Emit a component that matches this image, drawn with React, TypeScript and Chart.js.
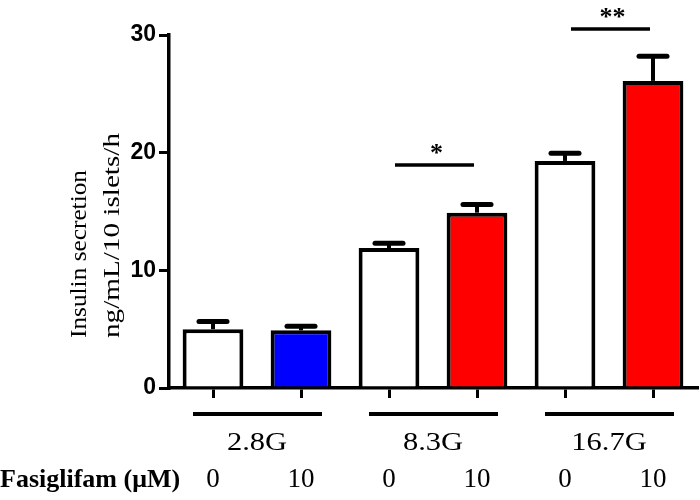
import React, { useEffect, useRef } from "react";
import { Chart, registerables } from "chart.js";
Chart.register(...registerables);

const groups = ["2.8G", "8.3G", "16.7G"];
const doses = ["0", "10", "0", "10", "0", "10"];
const values = [5.0, 4.9, 11.9, 14.9, 19.3, 26.1];
const errors = [0.65, 0.35, 0.4, 0.7, 0.65, 2.1];
const barColors = ["#ffffff", "#0000ff", "#ffffff", "#ff0000", "#ffffff", "#ff0000"];
const sigPairs = [
  [2, 3],
  [4, 5],
];
const sigLevels = [18.95, 30.5];
const sigMarks = ["*", "**"];
const doseTitle = "Fasiglifam (μM)";
const yTitle = ["Insulin secretion", "ng/mL/10 islets/h"];

const SERIF = "'Liberation Serif', 'Times New Roman', serif";
const SANS = "'Liberation Sans', Arial, sans-serif";

const overlay = {
  id: "overlay",
  afterDatasetsDraw(chart: any) {
    const ctx = chart.ctx as CanvasRenderingContext2D;
    const xs = chart.scales.x;
    const ys = chart.scales.y;
    const meta = chart.getDatasetMeta(0);
    ctx.save();
    ctx.strokeStyle = "#000";
    ctx.fillStyle = "#000";

    // error bars (upper only)
    meta.data.forEach((bar: any, i: number) => {
      const top = ys.getPixelForValue(values[i] + errors[i]);
      ctx.lineCap = "butt";
      ctx.lineWidth = 4;
      ctx.beginPath();
      ctx.moveTo(bar.x, bar.y);
      ctx.lineTo(bar.x, top);
      ctx.stroke();
      ctx.lineCap = "round";
      ctx.lineWidth = 5;
      ctx.beginPath();
      ctx.moveTo(bar.x - 14, top);
      ctx.lineTo(bar.x + 14, top);
      ctx.stroke();
    });

    // significance
    ctx.lineCap = "butt";
    sigPairs.forEach((p, k) => {
      const x1 = xs.getPixelForValue(p[0]) + 6;
      const x2 = xs.getPixelForValue(p[1]) - 3;
      const ly = ys.getPixelForValue(sigLevels[k]);
      ctx.lineWidth = 3.5;
      ctx.beginPath();
      ctx.moveTo(x1, ly);
      ctx.lineTo(x2, ly);
      ctx.stroke();
      ctx.font = `bold 26px ${SERIF}`;
      ctx.textAlign = "center";
      ctx.textBaseline = "alphabetic";
      ctx.fillText(sigMarks[k], (x1 + x2) / 2 + 2, ly - 4);
    });

    // dose labels under each bar
    const base = ys.bottom;
    ctx.font = `27px ${SERIF}`;
    ctx.textAlign = "center";
    ctx.textBaseline = "middle";
    doses.forEach((d, i) => {
      ctx.fillText(d, xs.getPixelForValue(i), 480);
    });

    // group lines & labels
    groups.forEach((g, k) => {
      const x1 = xs.getPixelForValue(2 * k);
      const x2 = xs.getPixelForValue(2 * k + 1);
      ctx.lineWidth = 4;
      ctx.beginPath();
      ctx.moveTo(x1 - 20, base + 26);
      ctx.lineTo(x2 + 21, base + 26);
      ctx.stroke();
      ctx.save();
      ctx.font = `25px ${SERIF}`;
      ctx.textAlign = "center";
      ctx.textBaseline = "middle";
      ctx.translate((x1 + x2) / 2, base + 55);
      ctx.scale(1.22, 1);
      ctx.fillText(g, 0, 0);
      ctx.restore();
    });

    // dose title
    ctx.font = `bold 26px ${SERIF}`;
    ctx.textAlign = "left";
    ctx.textBaseline = "middle";
    ctx.fillText(doseTitle, 0, 480);

    // y title (two rotated lines)
    const lens = [168, 205];
    const xsPos = [80, 113];
    yTitle.forEach((t, k) => {
      ctx.save();
      ctx.font = `24px ${SERIF}`;
      const w = ctx.measureText(t).width;
      ctx.translate(xsPos[k], 338);
      ctx.rotate(-Math.PI / 2);
      ctx.scale(lens[k] / w, 1);
      ctx.textAlign = "left";
      ctx.textBaseline = "middle";
      ctx.fillText(t, 0, 0);
      ctx.restore();
    });

    ctx.restore();
  },
};

export default function App() {
  const ref = useRef<HTMLCanvasElement | null>(null);
  useEffect(() => {
    if (!ref.current) return;
    const chart = new Chart(ref.current, {
      type: "bar",
      data: {
        labels: doses,
        datasets: [
          {
            data: values,
            backgroundColor: barColors,
            borderColor: "#000",
            borderWidth: 4,
            borderSkipped: "bottom",
            categoryPercentage: 1,
            barPercentage: 0.69,
          },
        ],
      },
      options: {
        responsive: false,
        animation: false,
        layout: { padding: { left: 0, top: 35, right: 3, bottom: 0 } },
        plugins: { legend: { display: false }, tooltip: { enabled: false } },
        scales: {
          x: {
            type: "category",
            offset: true,
            grid: {
              display: true,
              drawOnChartArea: false,
              drawTicks: true,
              tickLength: 10,
              color: "#000",
              lineWidth: 3,
              offset: false,
            },
            border: { display: true, color: "#000", width: 3.5 },
            ticks: { display: false },
            afterFit(s: any) {
              s.height = 112;
            },
          },
          y: {
            min: 0,
            max: 30,
            ticks: {
              stepSize: 10,
              color: "#000",
              font: { family: SANS, size: 23, weight: "bold" },
              padding: 3,
            },
            grid: {
              drawOnChartArea: false,
              drawTicks: true,
              tickLength: 10,
              color: "#000",
              lineWidth: 3,
            },
            border: { display: true, color: "#000", width: 3.5 },
            afterFit(s: any) {
              s.width = 169;
            },
          },
        },
      },
      plugins: [overlay],
    });
    return () => chart.destroy();
  }, []);
  return (
    <div style={{ position: "absolute", left: 0, top: 0, width: 700, height: 500, background: "#fff" }}>
      <canvas ref={ref} width={700} height={500} style={{ width: 700, height: 500 }} />
    </div>
  );
}
